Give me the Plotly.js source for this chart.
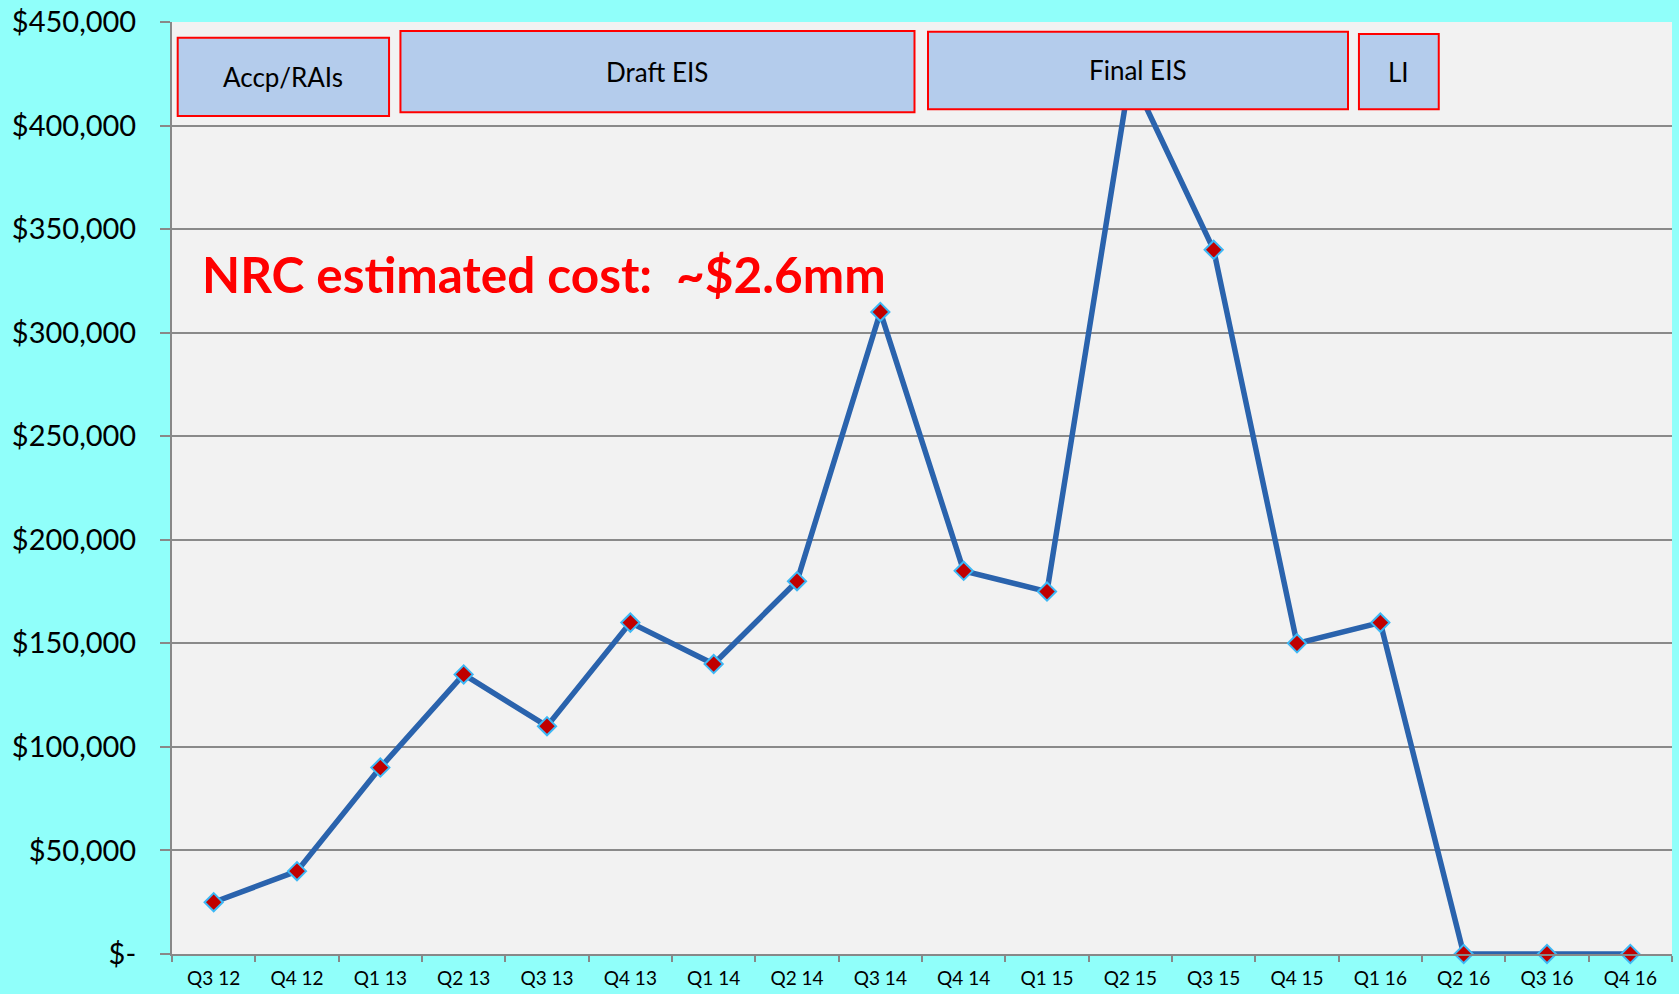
<!DOCTYPE html>
<html>
<head>
<meta charset="utf-8">
<script src="https://cdn.plot.ly/plotly-3.0.1.min.js"></script>
<style>
  html, body { margin: 0; padding: 0; background: #90FFFA; }
  #chart { width: 1679px; height: 994px; }
</style>
</head>
<body>
<div id="chart"></div>
<script>
// Data
const quarters = ["Q3 12","Q4 12","Q1 13","Q2 13","Q3 13","Q4 13","Q1 14","Q2 14","Q3 14",
                  "Q4 14","Q1 15","Q2 15","Q3 15","Q4 15","Q1 16","Q2 16","Q3 16","Q4 16"];
const costs = [25000, 40000, 90000, 135000, 110000, 160000, 140000, 180000, 310000,
               185000, 175000, 425000, 340000, 150000, 160000, 0, 0, 0];
const yTickVals = [0, 50000, 100000, 150000, 200000, 250000, 300000, 350000, 400000, 450000];
const yTickText = ["$-", "$50,000", "$100,000", "$150,000", "$200,000", "$250,000",
                   "$300,000", "$350,000", "$400,000", "$450,000"];
const phaseLabels = ["Accp/RAIs", "Draft EIS", "Final EIS", "LI"];
const noteText = "NRC estimated cost:  ~$2.6mm";

const FONT = "Lato, 'Open Sans', sans-serif";

// Phase boxes (paper coordinates)
const boxes = [
  {x0: 0.0038, x1: 0.1447, y0: 0.8992, y1: 0.9832},
  {x0: 0.1523, x1: 0.4950, y0: 0.9031, y1: 0.9903},
  {x0: 0.5040, x1: 0.7840, y0: 0.9064, y1: 0.9896},
  {x0: 0.7913, x1: 0.8445, y0: 0.9064, y1: 0.9871}
];

const shapes = boxes.map(b => ({
  type: "rect", xref: "paper", yref: "paper", layer: "above",
  x0: b.x0, x1: b.x1, y0: b.y0, y1: b.y1,
  fillcolor: "#B4CCEC", line: {color: "#FF0000", width: 2}
}));

const annotations = boxes.map((b, i) => ({
  xref: "paper", yref: "paper",
  x: (b.x0 + b.x1) / 2, y: (b.y0 + b.y1) / 2,
  xanchor: "center", yanchor: "middle",
  text: phaseLabels[i], showarrow: false,
  font: {family: FONT, size: 26, color: "#000000"}
}));

annotations.push({
  xref: "paper", yref: "paper", x: 0.0186, y: 0.7297,
  xanchor: "left", yanchor: "middle", showarrow: false,
  text: "<b>" + noteText + "</b>",
  font: {family: FONT, size: 49.5, color: "#FF0000"}
});

const trace = {
  type: "scatter", mode: "lines+markers",
  x: quarters, y: costs,
  cliponaxis: false,
  line: {color: "#2A63AD", width: 5.5},
  marker: {symbol: "diamond", size: 14, color: "#C00000",
           line: {color: "#3DB8F5", width: 2}},
  hoverinfo: "x+y"
};

const layout = {
  width: 1679, height: 994,
  paper_bgcolor: "#90FFFA",
  plot_bgcolor: "#F2F2F2",
  margin: {l: 172, r: 7, t: 22, b: 40},
  showlegend: false,
  font: {family: FONT, color: "#000000"},
  xaxis: {
    type: "category",
    range: [-0.5, quarters.length - 0.5],
    tickson: "boundaries",
    ticks: "outside", ticklen: 6, tickwidth: 2, tickcolor: "#888888",
    showline: true, linecolor: "#888888", linewidth: 2,
    showgrid: false, zeroline: false,
    tickfont: {family: FONT, size: 19, color: "#000000"},
    ticklabelstandoff: 6
  },
  yaxis: {
    range: [0, 450000],
    tickvals: yTickVals, ticktext: yTickText,
    ticks: "outside", ticklen: 10, tickwidth: 2, tickcolor: "#888888",
    showline: true, linecolor: "#888888", linewidth: 2,
    showgrid: true, gridcolor: "#8A8A8A", gridwidth: 2,
    zeroline: false,
    tickfont: {family: FONT, size: 29, color: "#000000"},
    ticklabelstandoff: 18
  },
  shapes: shapes,
  annotations: annotations
};

Plotly.newPlot("chart", [trace], layout, {displayModeBar: false, staticPlot: true});
</script>
</body>
</html>
